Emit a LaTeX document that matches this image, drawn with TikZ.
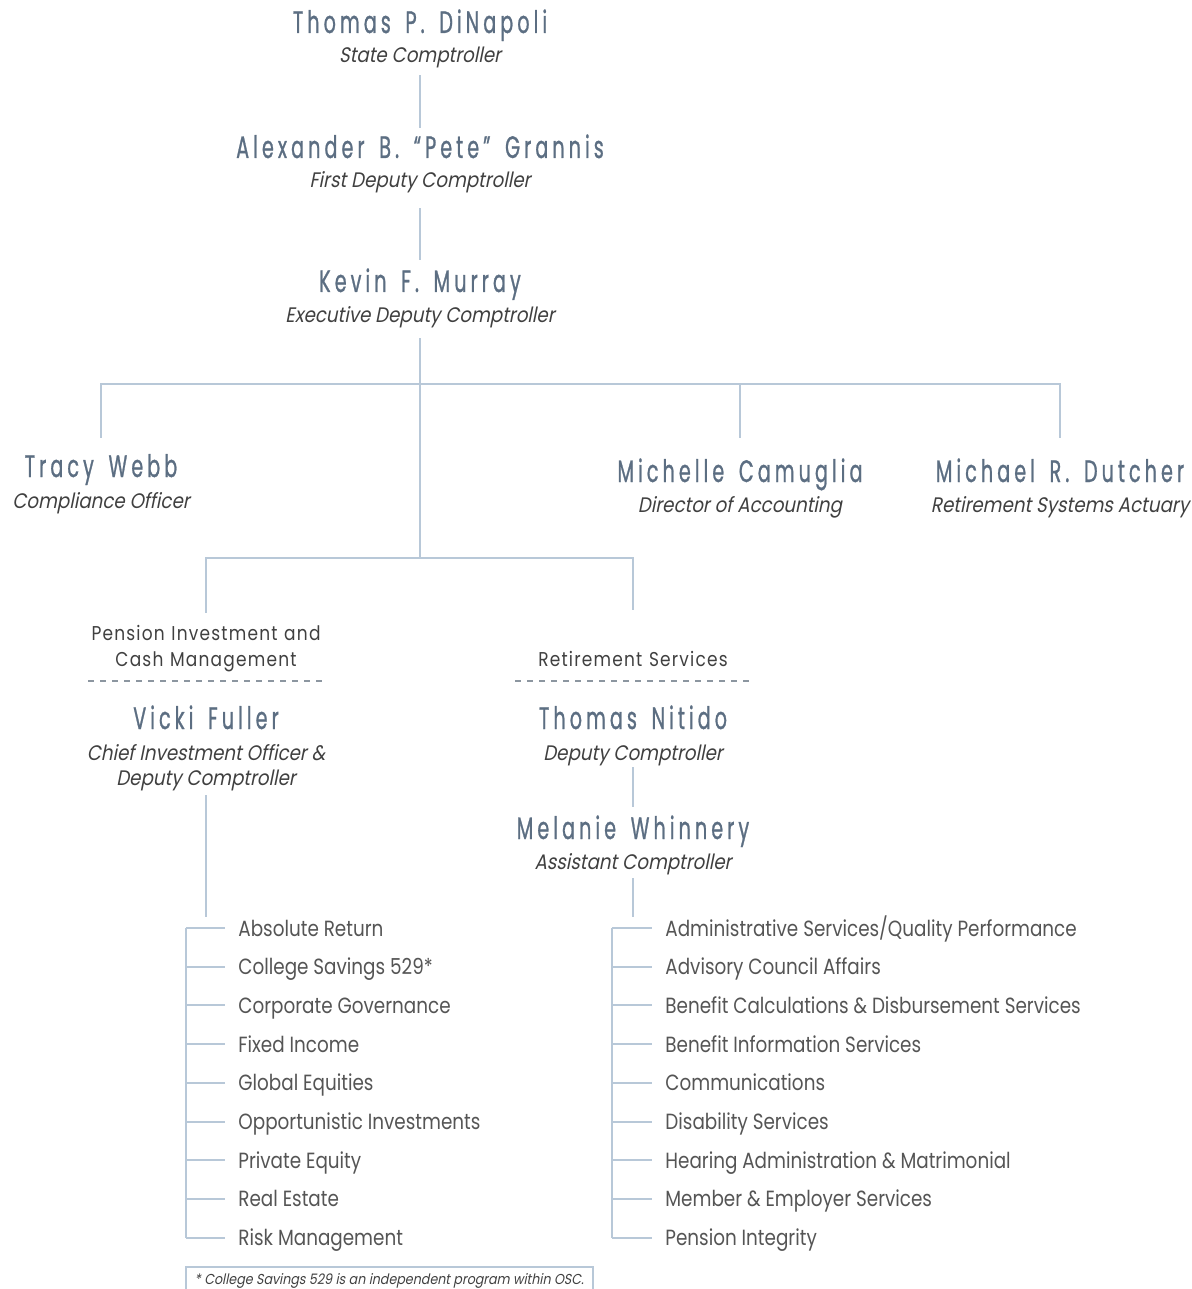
\documentclass[tikz,border=0pt]{standalone}
\usepackage{fontspec}
\setmainfont{Poppins}
\newfontfamily\personfont[FakeStretch=0.62, LetterSpace=13, WordSpace=1.6, FakeBold=0.8]{Poppins}
\newfontfamily\rolefont[FakeStretch=0.87, FakeSlant=0.2]{Poppins}
\newfontfamily\dutyfont[FakeStretch=0.835]{Poppins}
\newfontfamily\deptfont[FakeStretch=0.85, LetterSpace=6]{Poppins}
\newfontfamily\notefont[FakeStretch=0.88, FakeSlant=0.2]{Poppins}
\definecolor{slate}{RGB}{92, 110, 130}
\definecolor{ink}{RGB}{64, 64, 64}
\definecolor{dutygray}{RGB}{85, 85, 85}
\definecolor{linkblue}{RGB}{184, 200, 216}
\definecolor{dashgray}{RGB}{140, 150, 160}
\usetikzlibrary{positioning, calc}

\begin{document}
\begin{tikzpicture}[x=0.5pt, y=-0.5pt,
  link/.style={draw=linkblue, line width=1pt, line cap=square},
  person/.style={font=\personfont\fontsize{15.5}{18}\selectfont, text=slate, inner sep=0pt, anchor=base, text height=11pt, text depth=0pt},
  role/.style={font=\rolefont\fontsize{10.5}{13}\selectfont, text=ink, inner sep=0pt, anchor=base, text height=8pt, text depth=2.5pt},
  dept/.style={font=\deptfont\fontsize{10}{13}\selectfont, text=ink, text width=117.5pt, align=center, inner xsep=0pt, inner ysep=3pt, anchor=south, execute at end node=\strut},
  duty/.style={font=\dutyfont\fontsize{11}{13}\selectfont, text=dutygray, inner sep=0pt, anchor=west, text height=9pt, text depth=1pt},
  rule/.style={draw=dashgray, line width=0.6pt, dash pattern=on 3pt off 3pt},
  notebox/.style={draw=linkblue, line width=0.8pt, anchor=north west, minimum width=203.5pt, inner xsep=0pt, inner ysep=2.5pt, text height=6.5pt, text depth=10pt, font=\notefont\fontsize{7.2}{9}\selectfont, text=ink}]
  \useasboundingbox (0,0) rectangle (1192,1289);
  \clip (0,0) rectangle (1192,1289);

  % Top of the chain
  \node[person] (dinapoli) at (420,33) {Thomas P. DiNapoli};
  \node[role] (dinapoli-t) at (420,63) {State Comptroller};
  \node[person] (grannis) at (420,158) {Alexander B. “Pete” Grannis};
  \node[role] (grannis-t) at (420,188) {First Deputy Comptroller};
  \node[person] (murray) at (420,292) {Kevin F. Murray};
  \node[role] (murray-t) at (420,322) {Executive Deputy Comptroller};
  \draw[link, shorten <=3.5pt, shorten >=4pt] (dinapoli-t) -- (grannis);
  \draw[link, shorten <=7.5pt, shorten >=5pt] (grannis-t) -- (murray);

  % Staff row
  \node[person] (webb) at (101,477) {Tracy Webb};
  \node[role] (webb-t) at (101,508) {Compliance Officer};
  \node[person] (camuglia) at (740,482) {Michelle Camuglia};
  \node[role] (camuglia-t) at (740,512) {Director of Accounting};
  \node[person] (dutcher) at (1060,482) {Michael R. Dutcher};
  \node[role] (dutcher-t) at (1060,512) {Retirement Systems Actuary};
  \coordinate (bus) at (420,384);
  \coordinate (split) at (420,558);
  \draw[link, shorten <=5.5pt] (murray-t) -- (split);
  \draw[link, shorten >=8.5pt] (bus) -| (webb);
  \draw[link, shorten >=11pt] (bus) -| (camuglia);
  \draw[link, shorten >=11pt] (bus) -| (dutcher);

  % Divisions
  \node[dept] (pension) at (206,681) {Pension Investment and\\Cash Management};
  \node[dept] (retire) at (633,681) {Retirement Services};
  \draw[rule] (pension.south west) -- (pension.south east);
  \draw[rule] (retire.south west) -- (retire.south east);
  \draw[link, shorten >=3pt] (split) -| (pension);
  \draw[link, shorten >=16pt] (split) -| (retire);

  \node[person] (fuller) at (206,729) {Vicki Fuller};
  \node[role] (fuller-t) at (206,760) {Chief Investment Officer \&};
  \node[role] (fuller-t2) at (206,785) {Deputy Comptroller};
  \node[person] (nitido) at (633,729) {Thomas Nitido};
  \node[role] (nitido-t) at (633,760) {Deputy Comptroller};
  \node[person] (whinnery) at (633,839) {Melanie Whinnery};
  \node[role] (whinnery-t) at (633,869) {Assistant Comptroller};
  \coordinate (pictop) at (206,917);
  \coordinate (rstop) at (633,917);
  \draw[link, shorten <=2.5pt] (fuller-t2) -- (pictop);
  \draw[link, shorten <=1pt, shorten >=5pt] (nitido-t) -- (whinnery);
  \draw[link, shorten <=2pt] (whinnery-t) -- (rstop);

  % Investment units
  \foreach \txt [count=\i] in {Absolute Return, College Savings 529*, Corporate Governance, Fixed Income, Global Equities, Opportunistic Investments, Private Equity, Real Estate, Risk Management} {
    \coordinate (pspine\i) at (186,{928+38.7*(\i-1)});
    \node[duty] (pic\i) at (238,{928+38.7*(\i-1)}) {\txt};
    \draw[link, shorten >=6.5pt] (pspine\i) -- (pic\i);
  }
  \draw[link] (pspine1) -- (pspine9);

  % Retirement units
  \foreach \txt [count=\i] in {Administrative Services/Quality Performance, Advisory Council Affairs, Benefit Calculations \& Disbursement Services, Benefit Information Services, Communications, Disability Services, Hearing Administration \& Matrimonial, Member \& Employer Services, Pension Integrity} {
    \coordinate (rspine\i) at (612,{928+38.7*(\i-1)});
    \node[duty] (rs\i) at (665,{928+38.7*(\i-1)}) {\txt};
    \draw[link, shorten >=6.5pt] (rspine\i) -- (rs\i);
  }
  \draw[link] (rspine1) -- (rspine9);

  \node[notebox] (note) at (185,1266) {* College Savings 529 is an independent program within OSC.};
\end{tikzpicture}
\end{document}
